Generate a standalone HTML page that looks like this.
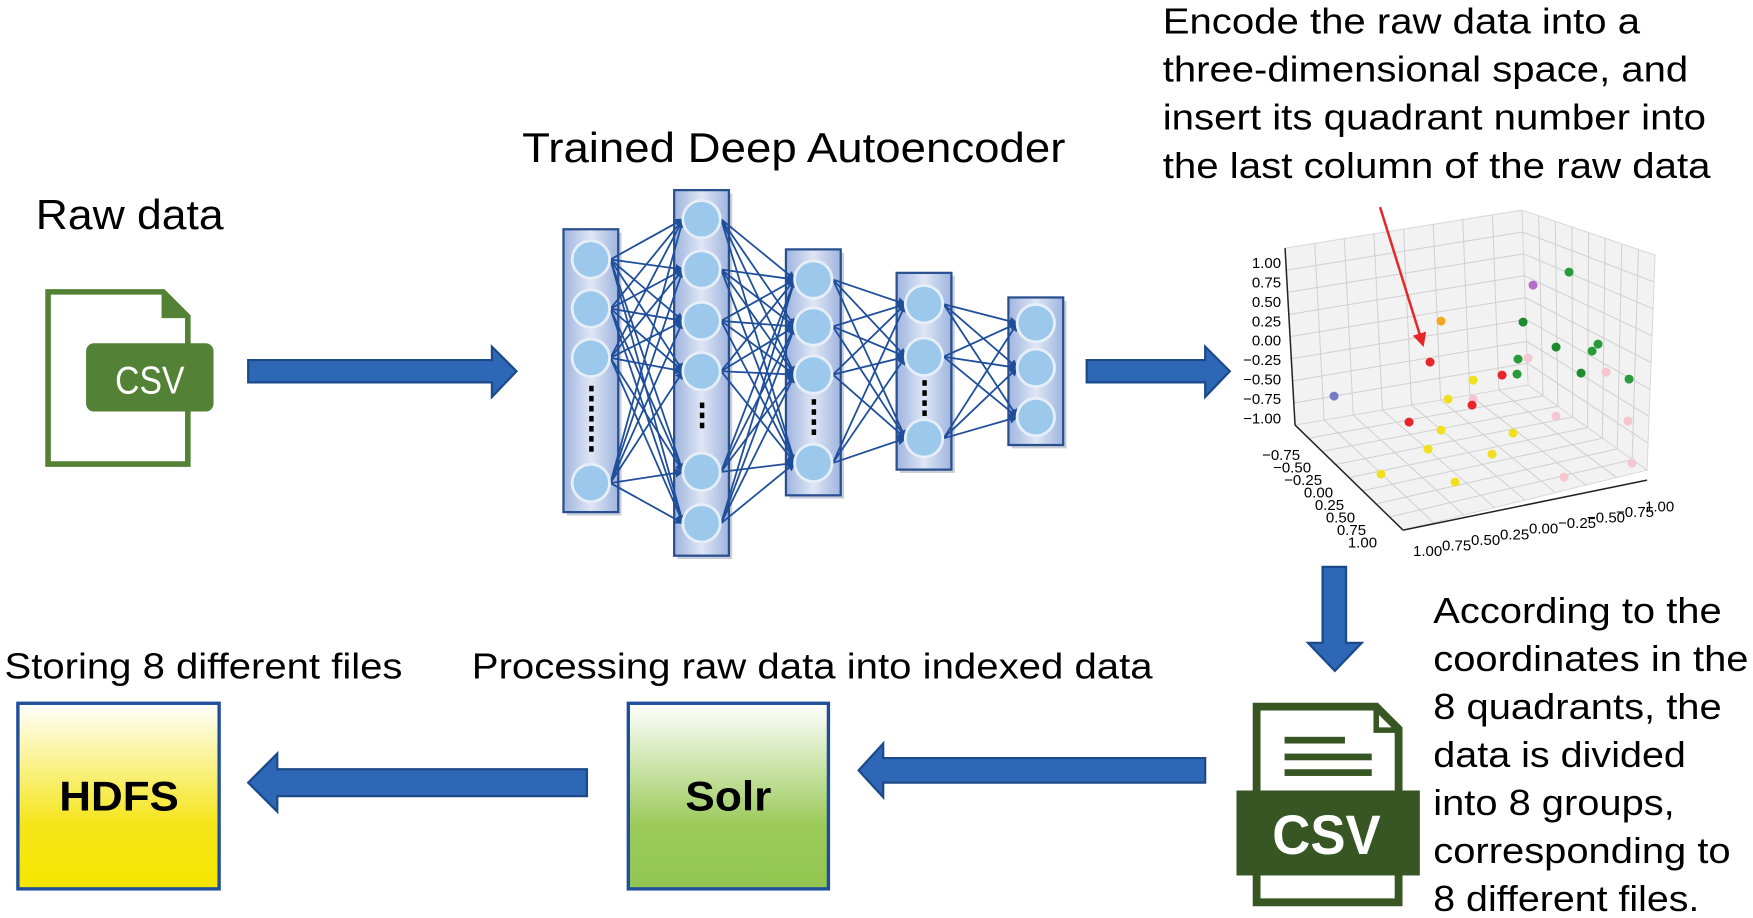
<!DOCTYPE html>
<html><head><meta charset="utf-8"><style>
html,body{margin:0;padding:0;background:#fff;}
svg{display:block;}
text{font-family:"Liberation Sans",Arial,sans-serif;fill:#000;}
</style></head><body>
<svg id="s" width="1753" height="918" viewBox="0 0 1568 821" xmlns="http://www.w3.org/2000/svg">
<defs>
<linearGradient id="gs" x1="0" y1="0" x2="0" y2="1"><stop offset="0" stop-color="#ffffff"/><stop offset="0.65" stop-color="#9ccb5c"/><stop offset="1" stop-color="#92c550"/></linearGradient>
<linearGradient id="gh" x1="0" y1="0" x2="0" y2="1"><stop offset="0" stop-color="#ffffff"/><stop offset="0.65" stop-color="#f5e51a"/><stop offset="1" stop-color="#f7e600"/></linearGradient>
<linearGradient id="gc" x1="0" y1="0" x2="1" y2="0"><stop offset="0" stop-color="#9fb4de"/><stop offset="0.5" stop-color="#dfe6f5"/><stop offset="1" stop-color="#9fb4de"/></linearGradient>
<marker id="ah" markerWidth="8" markerHeight="8" refX="7" refY="4" orient="auto" markerUnits="userSpaceOnUse"><path d="M0,0 L8,4 L0,8 z" fill="#1f4e9b"/></marker>
<marker id="ra" markerWidth="14" markerHeight="14" refX="12" refY="7" orient="auto" markerUnits="userSpaceOnUse"><path d="M0,0 L14,7 L0,14 z" fill="#e8262a"/></marker>
</defs>

<text x="32" y="205" font-size="37" textLength="168" lengthAdjust="spacingAndGlyphs">Raw data</text>
<path d="M43,261 H146 L168,283 V415 H43 Z" fill="none" stroke="#538135" stroke-width="5"/>
<path d="M146,261 V283 H168" fill="#538135" stroke="#538135" stroke-width="3"/>
<rect x="77" y="307" width="114" height="61" rx="7" fill="#538135"/>
<text x="103" y="352" font-size="35" style="fill:#fff" textLength="62" lengthAdjust="spacingAndGlyphs">CSV</text>

<path d="M222,322 H440 V310 L462,332 L440,355 V342 H222 Z" fill="#2e67b5" stroke="#1b4a8a" stroke-width="2"/>
<text x="467" y="145" font-size="37" textLength="486" lengthAdjust="spacingAndGlyphs">Trained Deep Autoencoder</text>
<g id="nn"></g>
<path d="M972,322 H1078 V310 L1100,332 L1078,355 V342 H972 Z" fill="#2e67b5" stroke="#1b4a8a" stroke-width="2"/>

<g font-size="32">
<text x="1040" y="30" textLength="427" lengthAdjust="spacingAndGlyphs">Encode the raw data into a</text>
<text x="1040" y="73" textLength="470" lengthAdjust="spacingAndGlyphs">three-dimensional space, and</text>
<text x="1040" y="116" textLength="486" lengthAdjust="spacingAndGlyphs">insert its quadrant number into</text>
<text x="1040" y="159" textLength="490" lengthAdjust="spacingAndGlyphs">the last column of the raw data</text>
</g>

<g id="plot" transform="scale(0.8945)"></g>

<path d="M1183,507 H1204 V575 H1218 L1194,600 L1170,575 H1183 Z" fill="#2e67b5" stroke="#1b4a8a" stroke-width="2"/>

<g font-size="32">
<text x="1282" y="557" textLength="258" lengthAdjust="spacingAndGlyphs">According to the</text>
<text x="1282" y="600" textLength="282" lengthAdjust="spacingAndGlyphs">coordinates in the</text>
<text x="1282" y="643" textLength="258" lengthAdjust="spacingAndGlyphs">8 quadrants, the</text>
<text x="1282" y="686" textLength="226" lengthAdjust="spacingAndGlyphs">data is divided</text>
<text x="1282" y="729" textLength="216" lengthAdjust="spacingAndGlyphs">into 8 groups,</text>
<text x="1282" y="772" textLength="266" lengthAdjust="spacingAndGlyphs">corresponding to</text>
<text x="1282" y="815" textLength="238" lengthAdjust="spacingAndGlyphs">8 different files.</text>
</g>

<path d="M1124,632 H1231 L1251,652 V807 H1124 Z" fill="#fff" stroke="#375623" stroke-width="7"/>
<path d="M1231,632 V653 H1251" fill="none" stroke="#375623" stroke-width="5"/>
<rect x="1149" y="659" width="54" height="6" fill="#375623"/>
<rect x="1149" y="674" width="78" height="6" fill="#375623"/>
<rect x="1149" y="688" width="78" height="6" fill="#375623"/>
<rect x="1106" y="707" width="164" height="76" fill="#375623"/>
<text x="1138" y="764" font-size="50" font-weight="bold" style="fill:#fff" textLength="97" lengthAdjust="spacingAndGlyphs">CSV</text>

<path d="M1078,678 H790 V665 L768,689 L790,713 V700 H1078 Z" fill="#2e67b5" stroke="#1b4a8a" stroke-width="2"/>
<path d="M525,688 H248 V674 L222,700 L248,726 V712 H525 Z" fill="#2e67b5" stroke="#1b4a8a" stroke-width="2"/>

<text x="422" y="607" font-size="32" textLength="609" lengthAdjust="spacingAndGlyphs">Processing raw data into indexed data</text>
<text x="4" y="607" font-size="32" textLength="356" lengthAdjust="spacingAndGlyphs">Storing 8 different files</text>

<rect x="562" y="629" width="179" height="166" fill="url(#gs)" stroke="#1f4e9b" stroke-width="3"/>
<text x="613" y="725" font-size="37" font-weight="bold" textLength="77" lengthAdjust="spacingAndGlyphs">Solr</text>
<rect x="16" y="629" width="180" height="166" fill="url(#gh)" stroke="#1f4e9b" stroke-width="3"/>
<text x="53" y="725" font-size="37" font-weight="bold" textLength="107" lengthAdjust="spacingAndGlyphs">HDFS</text>
</svg>
<script>
var NS="http://www.w3.org/2000/svg";
function el(p,t,a){var e=document.createElementNS(NS,t);for(var k in a)e.setAttribute(k,a[k]);p.appendChild(e);return e;}
var nn=document.getElementById("nn");
var cols=[
 {x:504,y0:205,y1:458,n:[232,276,320,432],d:[345,400]},
 {x:603,y0:170,y1:497,n:[196,241,287,332,422,468],d:[360,385]},
 {x:703,y0:223,y1:443,n:[250,292,335,414],d:[357,385]},
 {x:802,y0:244,y1:420,n:[272,319,392],d:[340,367]},
 {x:902,y0:266,y1:398,n:[289,329,373],d:null}
];
cols.forEach(function(c){
 el(nn,"rect",{x:c.x+3,y:c.y0+3,width:49,height:c.y1-c.y0,fill:"#c9cfd8"});
 el(nn,"rect",{x:c.x,y:c.y0,width:49,height:c.y1-c.y0,fill:"url(#gc)",stroke:"#2a4f8f","stroke-width":2});
});
for(var i=0;i<cols.length-1;i++){var a=cols[i],b=cols[i+1];
 a.n.forEach(function(ya){b.n.forEach(function(yb){
  el(nn,"line",{x1:a.x+42,y1:ya,x2:b.x+8,y2:yb,stroke:"#1f4e9b","stroke-width":1.6,"marker-end":"url(#ah)"});});});}
cols.forEach(function(c){
 c.n.forEach(function(y){el(nn,"circle",{cx:c.x+24.5,cy:y,r:18,fill:"#e6eef8"});el(nn,"circle",{cx:c.x+24.5,cy:y,r:15.5,fill:"#9cc8ec"});});
 if(c.d){for(var y=c.d[0];y<=c.d[1];y+=9)el(nn,"rect",{x:c.x+23,y:y,width:4,height:5,fill:"#000"});}
});
var pg=document.getElementById("plot");
var A=[1285,248],B=[1522,210],C=[1528,385],D=[1295,425],E=[1655,255],F=[1647,470],G=[1403,530];
function lerp(p,q,t){return [p[0]+(q[0]-p[0])*t,p[1]+(q[1]-p[1])*t];}
function quad(p){el(pg,"polygon",{points:p.map(function(q){return q.join(",")}).join(" "),fill:"#f2f2f2",stroke:"#d8d8d8","stroke-width":1});}
quad([A,B,C,D]);quad([B,E,F,C]);quad([D,C,F,G]);
function grid(P,Q,R,S,n){for(var i=1;i<n;i++){var t=i/n;var u=lerp(P,Q,t),v=lerp(S,R,t);el(pg,"line",{x1:u[0],y1:u[1],x2:v[0],y2:v[1],stroke:"#d0d0d0","stroke-width":1});}}
grid(A,B,C,D,8);grid(A,D,C,B,8);grid(B,E,F,C,8);grid(B,C,F,E,8);grid(D,C,F,G,8);grid(D,G,F,C,8);
el(pg,"line",{x1:1285,y1:248,x2:1295,y2:425,stroke:"#222","stroke-width":1.5});
el(pg,"line",{x1:1295,y1:425,x2:1403,y2:530,stroke:"#222","stroke-width":1.5});
el(pg,"line",{x1:1403,y1:530,x2:1647,y2:480,stroke:"#222","stroke-width":1.5});
var zl=["1.00","0.75","0.50","0.25","0.00","\u22120.25","\u22120.50","\u22120.75","\u22121.00"];
zl.forEach(function(s,i){var y=263+i*19.4;var t=el(pg,"text",{x:1281,y:y+5,"font-size":15,"text-anchor":"end"});t.textContent=s;});
var yl=["\u22120.75","\u22120.50","\u22120.25","0.00","0.25","0.50","0.75","1.00"];
yl.forEach(function(s,i){var t=el(pg,"text",{x:1300+i*11,y:460+i*12.5,"font-size":15,"text-anchor":"end"});t.textContent=s;});
var xl=["1.00","0.75","0.50","0.25","0.00","\u22120.25","\u22120.50","\u22120.75","1.00"];
xl.forEach(function(s,i){var t=el(pg,"text",{x:1413+i*29,y:556-i*5.6,"font-size":15});t.textContent=s;});
var pts=[[1569,272,"#2a9a3a"],[1533,285,"#b070c8"],[1441,321,"#f5a623"],[1523,322,"#1e8a2e"],[1556,347,"#1e8a2e"],[1598,344,"#2a9a3a"],[1592,351,"#2a9a3a"],[1430,362,"#e8262a"],[1518,359,"#2a9a3a"],[1528,358,"#f6c6d0"],[1502,375,"#e8262a"],[1517,374,"#2a9a3a"],[1581,373,"#1e8a2e"],[1606,372,"#f6c6d0"],[1629,379,"#2a9a3a"],[1473,380,"#f0e020"],[1334,396,"#7a7ac8"],[1448,399,"#f0e020"],[1473,399,"#f6c6d0"],[1472,405,"#e8262a"],[1409,422,"#e8262a"],[1556,416,"#f6c6d0"],[1628,421,"#f6c6d0"],[1441,430,"#f0e020"],[1513,433,"#f0e020"],[1428,449,"#f0e020"],[1492,454,"#f0e020"],[1632,463,"#f6c6d0"],[1381,474,"#f0e020"],[1564,477,"#f6c6d0"],[1455,482,"#f0e020"]];
pts.forEach(function(p){el(pg,"circle",{cx:p[0],cy:p[1],r:4.5,fill:p[2]});});
el(pg,"line",{x1:1380,y1:207,x2:1423,y2:345,stroke:"#e8262a","stroke-width":2.5,"marker-end":"url(#ra)"});
</script>
</body></html>
